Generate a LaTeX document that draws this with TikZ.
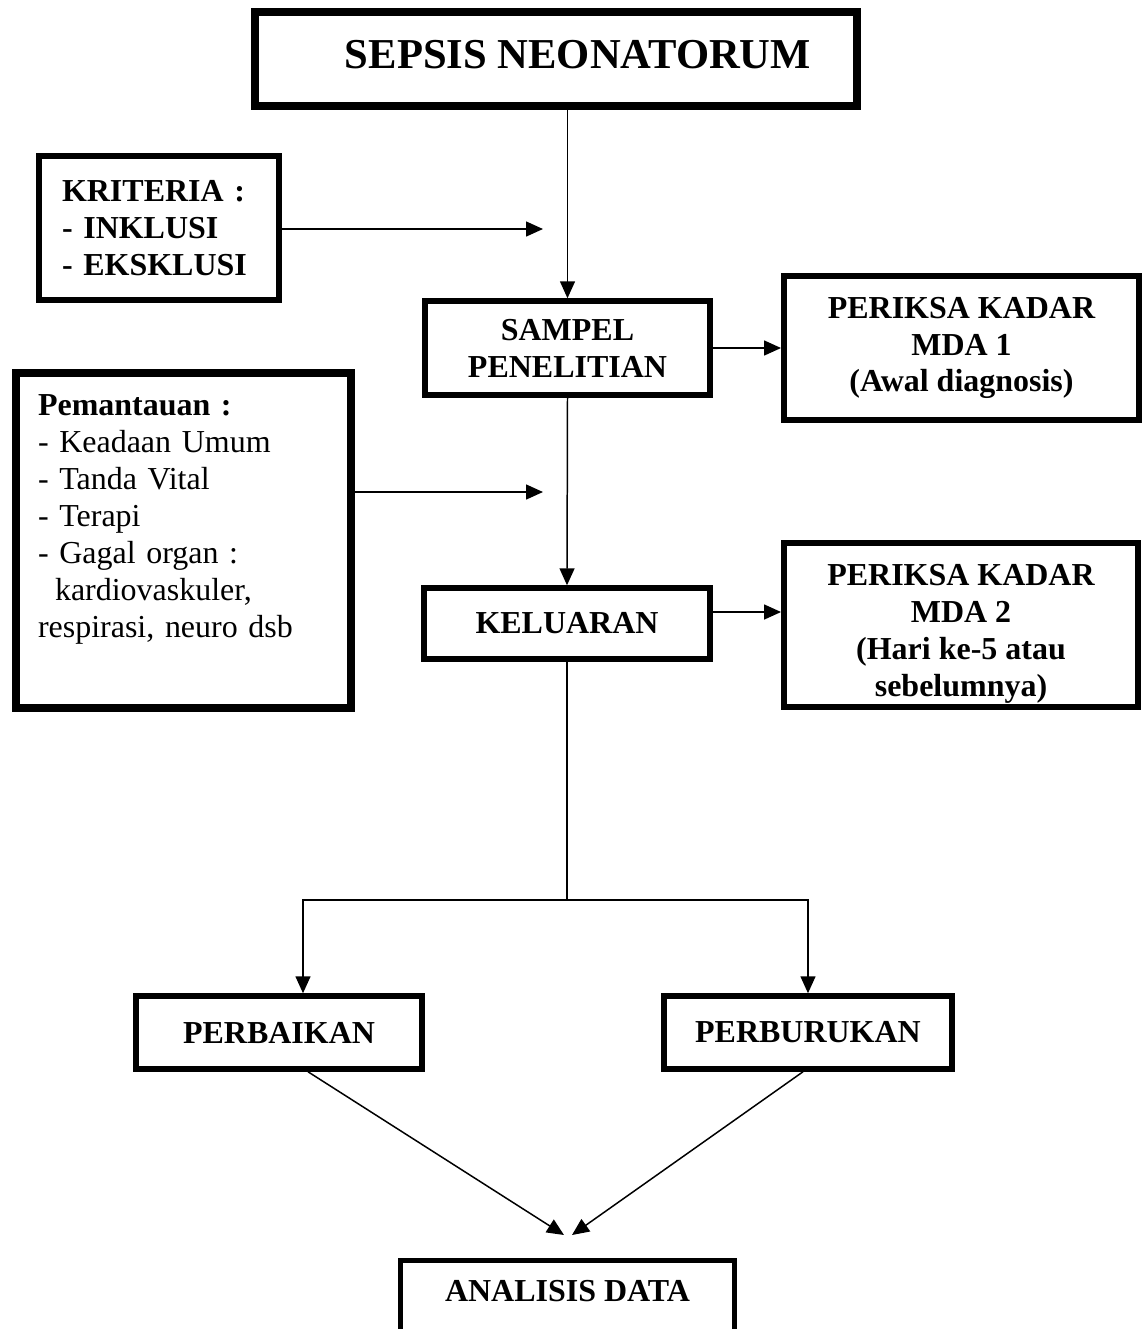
\documentclass[tikz,border=0pt]{standalone}
\usepackage{fontspec}
\setmainfont{Liberation Serif}
\usetikzlibrary{arrows.meta}

\begin{document}
\begin{tikzpicture}[x=0.02cm, y=-0.02cm, line width=0.85pt,
    >={Triangle[length=0.34cm,width=0.3cm]},
    box/.style={draw, rectangle, line width=0.12cm, inner sep=0pt,
      font=\fontsize{18.2}{21}\selectfont\bfseries, align=center},
    thickbox/.style={box, line width=0.16cm}]
  \clip (0,0) rectangle (1147,1329);
  % boxes
  \node[thickbox, minimum width=12.04cm, minimum height=1.88cm, text depth=0.2cm,
    font=\fontsize{24.25}{28}\selectfont\bfseries] (title) at (556,59)
    {\hspace*{0.88cm}SEPSIS NEONATORUM};
  \node[box, minimum width=4.8cm, minimum height=2.88cm, inner xsep=0.46cm,
    text width=3.88cm, align=left] (krit) at (159,228)
    {KRITERIA :\\- INKLUSI\\- EKSKLUSI};
  \node[box, line width=0.11cm, minimum width=5.7cm, minimum height=1.88cm] (sampel) at (567.5,348)
    {SAMPEL\\PENELITIAN};
  \node[box, minimum width=7.1cm, minimum height=2.88cm] (mda1) at (961.5,348)
    {PERIKSA KADAR\\MDA 1\\(Awal diagnosis)};
  \node[thickbox, minimum width=6.7cm, minimum height=6.7cm, inner xsep=0.44cm,
    text width=5.82cm, align=left, font=\fontsize{18.2}{21}\selectfont] (pem) at (183.5,540.5)
    {\textbf{Pemantauan :}\\- Keadaan Umum\\- Tanda Vital\\- Terapi\\- Gagal organ :\\
     \hspace*{0.34cm}kardiovaskuler,\\respirasi, neuro dsb\\[0.24cm]\mbox{}};
  \node[box, line width=0.11cm, minimum width=5.72cm, minimum height=1.42cm] (kel) at (567,623.5)
    {KELUARAN};
  \node[box, minimum width=7.08cm, minimum height=3.28cm] (mda2) at (961,625)
    {\rule{0pt}{0.78cm}PERIKSA KADAR\\MDA 2\\(Hari ke-5 atau\\sebelumnya)};
  \node[box, line width=0.11cm, minimum width=5.72cm, minimum height=1.46cm] (perb) at (279,1032.5)
    {PERBAIKAN};
  \node[box, line width=0.11cm, minimum width=5.76cm, minimum height=1.46cm] (perbr) at (808,1032.5)
    {PERBURUKAN};
  \node[box, line width=0.1cm, minimum width=6.7cm, minimum height=2cm, text depth=0.78cm] (ana) at (567.5,1310.5)
    {ANALISIS DATA};
  % free ends
  \coordinate (kritin) at (543,229);
  \coordinate (pemin) at (543,492);
  \coordinate (split) at (567,900);
  \coordinate (tipa) at (564,1235);
  \coordinate (tipb) at (572,1235);
  % connectors
  \draw[->] (sampel.north |- title.south) -- (sampel.north);
  \draw[->] (krit.east |- kritin) -- (kritin);
  \draw[->] (sampel.east) -- (mda1.west);
  \draw[->] (pem.east |- pemin) -- (pemin);
  \draw[->] (sampel.south) -- (kel.north);
  \draw[->] ([yshift=0.23cm]kel.east) -- ([yshift=0.23cm]kel.east -| mda2.west);
  \draw (kel.south) -- (split);
  \draw[->] (split) -| ([xshift=0.48cm]perb.north);
  \draw[->] (split) -| (perbr.north);
  \draw[->] ([xshift=0.58cm]perb.south) -- (tipa);
  \draw[->] ([xshift=-0.1cm]perbr.south) -- (tipb);
\end{tikzpicture}
\end{document}
